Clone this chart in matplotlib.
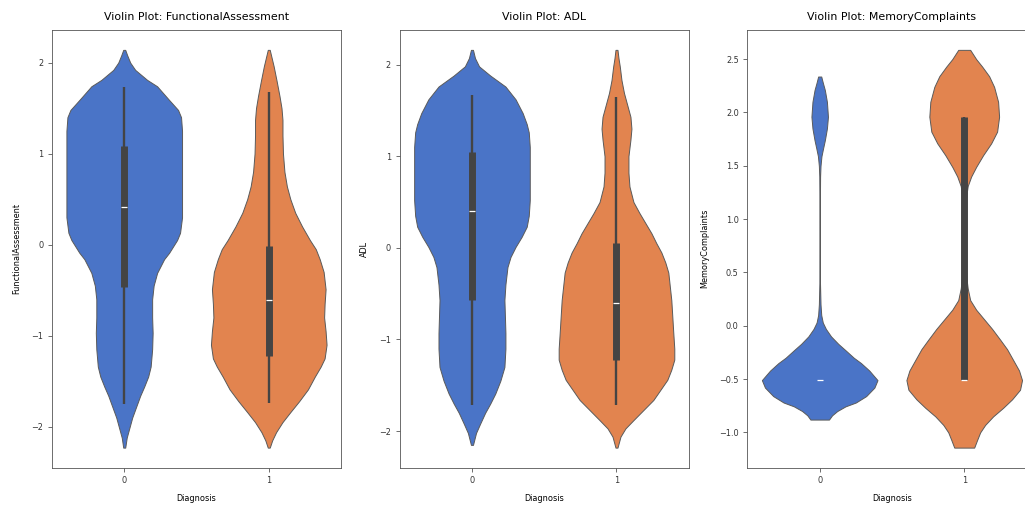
import matplotlib
matplotlib.use("Agg")
import matplotlib.pyplot as plt
from matplotlib.ticker import FixedLocator
import numpy as np

# ---------------- data ----------------
categories = [0, 1]
panel_vars = ["FunctionalAssessment", "ADL", "MemoryComplaints"]

# FunctionalAssessment, Diagnosis 0: density profile (y, relative half-width)
fa_y0 = [2.14, 2.08, 2.0, 1.92, 1.81, 1.74, 1.59, 1.48, 1.40, 1.25, 0.9, 0.5, 0.3, 0.13, 0.05,
         -0.09, -0.16, -0.31, -0.45, -0.6, -0.8, -0.97, -1.15, -1.34, -1.45, -1.56, -1.66,
         -1.78, -1.9, -2.0, -2.12, -2.23]
fa_w0 = [1, 3, 6, 11, 23, 33, 45, 54, 57, 58, 58, 58, 58, 56, 53,
         45, 40, 33, 29.5, 28, 28, 28.5, 28, 26.5, 24, 20, 16,
         12, 8, 5.5, 2.5, 1]
# FunctionalAssessment, Diagnosis 1
fa_y1 = [2.14, 2.05, 1.96, 1.8, 1.63, 1.5, 1.37, 1.2, 1.0, 0.8, 0.64, 0.5, 0.35, 0.2, 0.05,
         -0.05, -0.16, -0.3, -0.49, -0.65, -0.8, -0.95, -1.1, -1.25, -1.34, -1.45, -1.59,
         -1.72, -1.84, -1.95, -2.06, -2.15, -2.23]
fa_w1 = [1, 3, 5, 8, 11, 13, 14, 14, 14.5, 16, 18.5, 22, 27, 34, 42,
         48, 52, 56, 58, 57, 56.5, 58, 59, 57, 53, 47, 40,
         31, 22, 14, 7.5, 3.5, 1]

# ADL, Diagnosis 0
adl_y0 = [2.16, 2.07, 1.98, 1.88, 1.76, 1.62, 1.47, 1.35, 1.26, 1.1, 0.96, 0.52, 0.35, 0.23,
          0.12, 0.01, -0.1, -0.21, -0.4, -0.57, -0.75, -0.93, -1.1, -1.3, -1.45, -1.59,
          -1.7, -1.8, -1.92, -2.02, -2.15]
adl_w0 = [1, 3, 7, 18, 33, 43, 50, 54, 56, 57, 57, 57, 56, 54,
          49, 43, 38, 35, 33, 32, 32.5, 33, 33, 32, 28, 23,
          18, 13, 8, 4, 1]
# ADL, Diagnosis 1
adl_y1 = [2.16, 2.07, 1.98, 1.83, 1.69, 1.55, 1.43, 1.3, 1.18, 1.0, 0.82, 0.67, 0.5, 0.38,
          0.27, 0.16, 0.05, -0.05, -0.16, -0.27, -0.57, -0.93, -1.1, -1.22, -1.33, -1.44,
          -1.55, -1.66, -1.77, -1.88, -1.97, -2.06, -2.18]
adl_w1 = [1, 2, 3.3, 5, 7.5, 11, 14, 15, 14, 12, 12, 13, 17, 23,
          29, 35, 40, 45, 49, 52, 55, 57, 58, 58, 55, 51,
          44, 37, 27, 17, 9, 4, 1]

# MemoryComplaints, Diagnosis 0
mc_y0 = [2.337, 2.28, 2.21, 2.1, 1.96, 1.85, 1.74, 1.66, 1.59, 1.5, 1.4, 1.2, 0.8, 0.4, 0.2,
         0.1, 0.03, -0.03, -0.1, -0.17, -0.23, -0.3, -0.35, -0.42, -0.51, -0.58, -0.66,
         -0.72, -0.756, -0.8, -0.84, -0.88]
mc_w0 = [1.5, 3, 5, 7, 8, 7, 5, 3.2, 1.7, 0.8, 0.4, 0.25, 0.2, 0.3, 0.8,
         1.5, 3, 6, 11, 18, 25, 33, 40, 48, 56, 53, 45,
         35, 25, 17, 12, 9]
# MemoryComplaints, Diagnosis 1
mc_y1 = [2.587, 2.5, 2.43, 2.34, 2.24, 2.1, 1.96, 1.82, 1.71, 1.6, 1.49, 1.4, 1.31, 1.2, 1.0,
         0.8, 0.6, 0.45, 0.35, 0.24, 0.15, 0.06, -0.03, -0.13, -0.22, -0.32, -0.42, -0.51,
         -0.6, -0.69, -0.77, -0.85, -0.93, -1.0, -1.07, -1.143]
mc_w1 = [6, 12, 18, 25, 30, 34, 35, 33, 27, 19, 12, 7, 3.5, 1.8, 0.8,
         0.6, 1, 2.2, 3.5, 6, 12, 20, 28, 36, 43, 49, 55, 58,
         56, 48, 39, 29, 21, 16, 13, 10]

# inner box stats: (whisker low, q1, median, q3, whisker high)
fa_box = [(-1.75, -0.47, 0.41, 1.08, 1.73), (-1.74, -1.22, -0.61, -0.02, 1.68)]
adl_box = [(-1.72, -0.57, 0.40, 1.05, 1.67), (-1.72, -1.22, -0.60, 0.05, 1.65)]
mc_box = [(-0.51, -0.51, -0.51, -0.51, -0.51), (-0.51, -0.51, -0.51, 1.96, 1.96)]

fa_ticks = [-2, -1, 0, 1, 2]
adl_ticks = [-2, -1, 0, 1, 2]
mc_ticks = [-1.0, -0.5, 0.0, 0.5, 1.0, 1.5, 2.0, 2.5]

panels = [
    ("FunctionalAssessment", [(fa_y0, fa_w0), (fa_y1, fa_w1)], fa_box, fa_ticks),
    ("ADL", [(adl_y0, adl_w0), (adl_y1, adl_w1)], adl_box, adl_ticks),
    ("MemoryComplaints", [(mc_y0, mc_w0), (mc_y1, mc_w1)], mc_box, mc_ticks),
]

# ---------------- styling ----------------
colors = ["#4a74c7", "#e2844f"]
edge_color = "#5a5a5a"
box_color = "#444444"
title_fs = 7.9
label_fs = 5.9
tick_fs = 5.9

fig, axes = plt.subplots(1, 3, figsize=(10.25, 5.08), dpi=100)
fig.subplots_adjust(left=0.0507, right=1.0112, bottom=0.0797, top=0.941, wspace=0.203)

for ax, (name, profiles, boxes, ticks) in zip(axes, panels):
    stats = []
    for (ys, ws), bx in zip(profiles, boxes):
        stats.append({
            "coords": np.array(ys, dtype=float),
            "vals": np.array(ws, dtype=float),
            "mean": bx[2], "median": bx[2],
            "min": min(ys), "max": max(ys),
        })
    parts = ax.violin(stats, positions=categories, widths=0.8,
                      showmeans=False, showextrema=False, showmedians=False)
    for body, c in zip(parts["bodies"], colors):
        body.set_facecolor(c)
        body.set_edgecolor(edge_color)
        body.set_linewidth(0.7)
        body.set_alpha(1)
    for pos, bx in zip(categories, boxes):
        wlo, q1, med, q3, whi = bx
        ax.vlines(pos, wlo, whi, colors=box_color, linewidth=1.7, zorder=3)
        ax.vlines(pos, q1, q3, colors=box_color, linewidth=5.0, zorder=3,
                  capstyle="butt")
        ax.plot([pos], [med], marker="_", color="white", markersize=4.5,
                markeredgewidth=0.9, zorder=4)

    ax.set_xlim(-0.5, 1.5)
    ax.set_xticks(categories)
    ax.set_xticklabels([str(c) for c in categories])
    ax.yaxis.set_major_locator(FixedLocator(ticks))
    ax.set_title(f"Violin Plot: {name}", fontsize=title_fs, pad=7)
    ax.set_xlabel("Diagnosis", fontsize=label_fs, labelpad=6)
    ax.set_ylabel(name, fontsize=label_fs, labelpad=7)
    ax.tick_params(labelsize=tick_fs, length=2.8, width=0.5, pad=3.5, colors="#333333")
    for sp in ax.spines.values():
        sp.set_linewidth(0.6)
        sp.set_color("#555555")

fig.savefig("out.png", dpi=100)
